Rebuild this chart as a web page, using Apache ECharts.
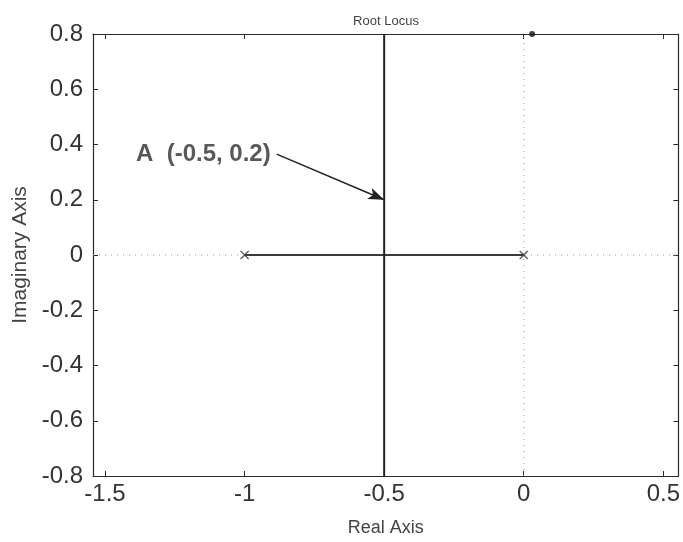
<!DOCTYPE html>
<html>
<head>
<meta charset="utf-8">
<script src="https://cdn.jsdelivr.net/npm/echarts@6/dist/echarts.min.js"></script>
<style>
  html, body { margin: 0; padding: 0; background: #fff; }
  #chart { width: 683px; height: 542px; }
</style>
</head>
<body>
<div id="chart"></div>
<script>
// Limites des axes
const X_MIN = -1.543, X_MAX = 0.554;
const Y_MIN = -0.8, Y_MAX = 0.8;
const xTicks = [-1.5, -1, -0.5, 0, 0.5];

// Lieu des racines
const poles = [[-1, 0], [0, 0]];
const realBranch = [[-1, 0], [0, 0]];
const vertBranch = [[-0.5, Y_MIN], [-0.5, Y_MAX]];
const topDot = [[0.03, 0.8]];

// Annotation A
const annotText = 'A  (-0.5, 0.2)';
const arrowFrom = [-0.885, 0.365];
const arrowTo = [-0.5, 0.2];

const ink = '#2a2a2a';
const font = 'Liberation Sans, Arial, sans-serif';

const chart = echarts.init(document.getElementById('chart'));

const baseX = {
  type: 'value', min: X_MIN, max: X_MAX,
  axisLine: { show: true, onZero: false, lineStyle: { color: ink, width: 1.2 } },
  axisTick: { show: true, inside: true, length: 5, customValues: xTicks, lineStyle: { color: ink } },
  splitLine: { show: false },
};
const baseY = {
  type: 'value', min: Y_MIN, max: Y_MAX, interval: 0.2,
  axisLine: { show: true, onZero: false, lineStyle: { color: ink, width: 1.2 } },
  axisTick: { show: true, inside: true, length: 5, lineStyle: { color: ink } },
  splitLine: { show: false },
};

chart.setOption({
  animation: false,
  backgroundColor: '#fff',
  title: {
    text: 'Root Locus', left: 381, top: 10, textAlign: 'center',
    textStyle: { fontSize: 13, fontWeight: 'normal', color: '#444', fontFamily: font },
  },
  grid: { left: 93, right: 3, top: 34, bottom: 64 },
  xAxis: [
    {
      ...baseX, position: 'bottom',
      name: 'Real Axis', nameLocation: 'middle', nameGap: 43,
      nameTextStyle: { fontSize: 18, color: '#444', fontFamily: font },
      axisLabel: {
        customValues: xTicks, margin: 6, fontSize: 24, color: '#333', fontFamily: font,
        formatter: v => String(Math.round(v * 10) / 10),
      },
    },
    { ...baseX, position: 'top', axisLabel: { show: false } },
  ],
  yAxis: [
    {
      ...baseY, position: 'left',
      name: 'Imaginary Axis', nameLocation: 'middle', nameGap: 62,
      nameTextStyle: { fontSize: 21, color: '#444', fontFamily: font },
      axisLabel: {
        margin: 10, fontSize: 24, color: '#333', fontFamily: font,
        formatter: v => String(Math.round(v * 10) / 10),
      },
    },
    { ...baseY, position: 'right', axisLabel: { show: false } },
  ],
  series: [
    {
      // axes pointillés
      type: 'line', silent: true, symbol: 'none',
      data: [[X_MIN, 0], [X_MAX, 0]],
      lineStyle: { color: '#999', width: 1, type: [1, 5] },
    },
    {
      type: 'line', silent: true, symbol: 'none',
      data: [[0, Y_MIN], [0, Y_MAX]],
      lineStyle: { color: '#999', width: 1, type: [1, 5] },
    },
    {
      type: 'line', symbol: 'none', data: realBranch,
      lineStyle: { color: '#3a3a3a', width: 2 },
    },
    {
      type: 'line', symbol: 'none', data: vertBranch,
      lineStyle: { color: '#222', width: 2 },
    },
    {
      type: 'scatter', data: poles, symbolSize: 9,
      symbol: 'path://M0,1L1,0L5,4L9,0L10,1L6,5L10,9L9,10L5,6L1,10L0,9L4,5Z',
      itemStyle: { color: '#333' },
    },
    {
      type: 'scatter', data: topDot, symbolSize: 6,
      itemStyle: { color: '#111' },
    },
    {
      // annotation A
      type: 'scatter', data: [arrowFrom], symbolSize: 0,
      label: {
        show: true, position: 'left', distance: 6,
        formatter: annotText, fontSize: 24, fontWeight: 'bold', color: '#2e2e2e', fontFamily: font,
      },
      markLine: {
        silent: true, symbol: ['none', 'arrow'], symbolSize: [9, 16],
        label: { show: false },
        lineStyle: { color: '#222', width: 1.5, type: 'solid' },
        data: [[{ coord: arrowFrom }, { coord: arrowTo }]],
      },
    },
  ],
});
</script>
</body>
</html>
